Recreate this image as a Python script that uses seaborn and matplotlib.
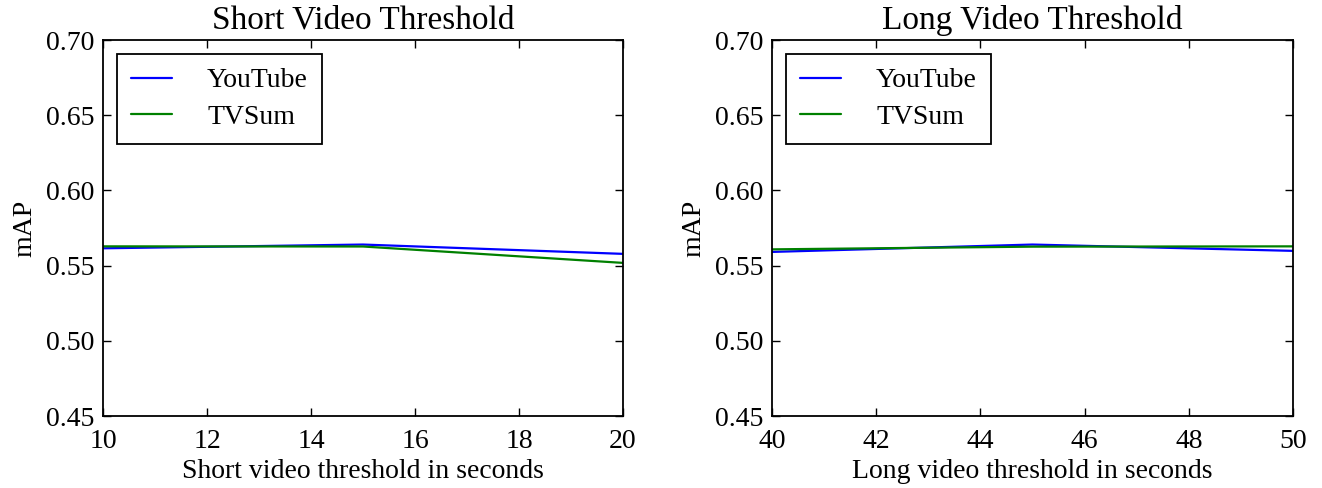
import numpy as np
import pandas as pd
import matplotlib
matplotlib.use('Agg')
import matplotlib.pyplot as plt
import seaborn as sns

# Values
short_thr = [10, 15, 20]
short_youtube = [0.5615, 0.5640, 0.5578]
short_tvsum = [0.5628, 0.5627, 0.5518]

long_thr = [40, 45, 50]
long_youtube = [0.5591, 0.5640, 0.5598]
long_tvsum = [0.5608, 0.5626, 0.5628]

sns.set_style('ticks')
plt.rcParams['font.family'] = ['Liberation Serif', 'DejaVu Serif']
plt.rcParams['text.color'] = 'black'
plt.rcParams['axes.labelcolor'] = 'black'
plt.rcParams['xtick.color'] = 'black'
plt.rcParams['ytick.color'] = 'black'

fig = plt.figure(figsize=(13.22, 4.88), dpi=100)
ax1 = fig.add_axes([103 / 1322, 1 - 416 / 488, 520 / 1322, 376 / 488])
ax2 = fig.add_axes([772 / 1322, 1 - 416 / 488, 521 / 1322, 376 / 488])

panels = [
    (ax1, short_thr, short_youtube, short_tvsum, 'Short Video Threshold',
     'Short video threshold in seconds', np.arange(10, 21, 2)),
    (ax2, long_thr, long_youtube, long_tvsum, 'Long Video Threshold',
     'Long video threshold in seconds', np.arange(40, 51, 2)),
]

for ax, thr, yt, tv, title, xlabel, xticks in panels:
    df = pd.DataFrame({'thr': thr * 2, 'mAP': yt + tv,
                       'set': ['YouTube'] * len(thr) + ['TVSum'] * len(thr)})
    sns.lineplot(data=df, x='thr', y='mAP', hue='set',
                 palette={'YouTube': 'blue', 'TVSum': 'green'},
                 linewidth=1.6, ax=ax)
    ax.set_xlim(thr[0], thr[-1])
    ax.set_ylim(0.45, 0.70)
    ax.set_xticks(xticks)
    ax.set_yticks(np.arange(0.45, 0.701, 0.05))
    ax.set_yticklabels(['%.2f' % v for v in np.arange(0.45, 0.701, 0.05)])
    ax.tick_params(direction='in', top=True, right=True, length=6,
                   width=1, labelsize=20, color='black')
    ax.tick_params(axis='x', pad=9)
    ax.tick_params(axis='y', pad=6)
    for s in ax.spines.values():
        s.set_linewidth(1.3)
        s.set_color('black')
    ax.set_title(title, fontsize=24, pad=8)
    ax.set_xlabel(xlabel, fontsize=20, labelpad=4)
    ax.set_ylabel('mAP', fontsize=20, labelpad=6)
    leg = ax.legend(loc='upper left', fontsize=20, frameon=True, fancybox=False,
                    borderpad=0.5, handlelength=1.5, handletextpad=1.25,
                    borderaxespad=0.5, labelspacing=0.4)
    leg.get_frame().set_edgecolor('black')
    leg.get_frame().set_linewidth(1.3)
    leg.get_frame().set_alpha(1)
    for t in leg.get_texts():
        t.set_color('black')

fig.savefig('out.png', dpi=100)
